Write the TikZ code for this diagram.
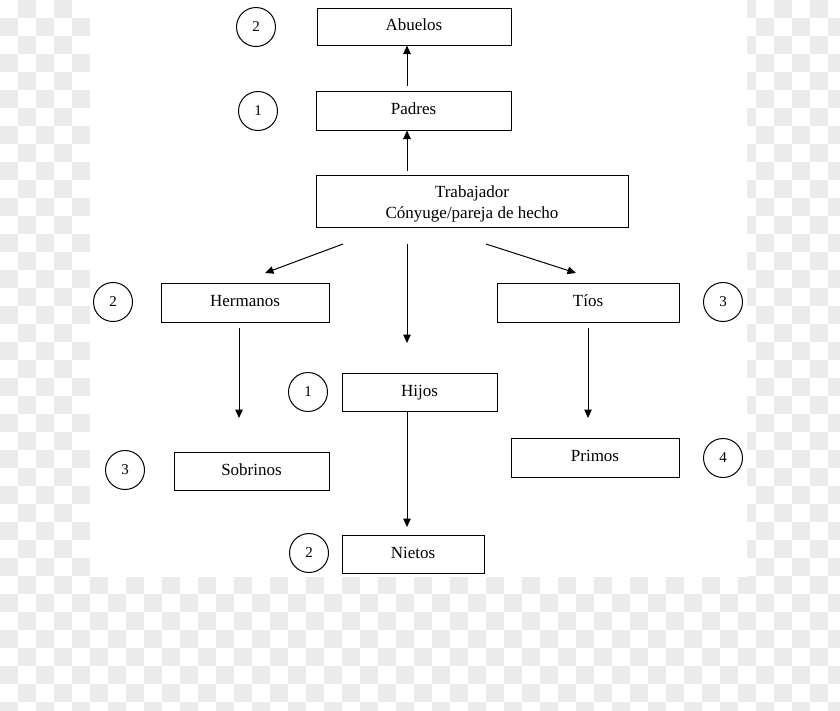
\documentclass[tikz,border=0pt]{standalone}
\usepackage{fontspec}
\setmainfont{Liberation Serif}
\usetikzlibrary{arrows.meta}
\pgfdeclarelayer{bglayer}
\pgfdeclarelayer{edgelayer}
\pgfdeclarelayer{nodelayer}
\pgfsetlayers{bglayer,edgelayer,nodelayer,main}
\definecolor{checkgray}{HTML}{EBEBEB}
\tikzstyle{kinbox}=[rectangle, draw=black, fill=white, line width=1pt, inner sep=0pt, align=center, font=\fontsize{17}{21}\selectfont]
\tikzstyle{kinline}=[kinbox, text height=12pt, text depth=4pt]
\tikzstyle{degree}=[circle, draw=black, fill=white, line width=1pt, minimum size=39pt, inner sep=0pt, font=\fontsize{15}{18}\selectfont]
\tikzstyle{arrowedge}=[draw=black, line width=1pt, -{Triangle[length=8.5pt,width=7.5pt]}]

\begin{document}
\begin{tikzpicture}[x=1pt, y=-1pt]
	\useasboundingbox (0,0) rectangle (840,710);
	\begin{pgfonlayer}{bglayer}
		\foreach \i in {0,...,46}
			\foreach \j in {0,...,39}
				{\pgfmathparse{int(mod(\i+\j,2))}
				 \ifnum\pgfmathresult=1 \fill [checkgray] (18*\i,18*\j) rectangle ++(18,18); \fi}
		\fill [white] (90,0) rectangle (747,577);
	\end{pgfonlayer}
	\begin{pgfonlayer}{nodelayer}
		\node [style=kinline, minimum width=194pt, minimum height=37pt] (abuelos) at (414,26.5) {Abuelos};
		\node [style=kinline, minimum width=195pt, minimum height=39pt] (padres) at (413.5,110.5) {Padres};
		\node [style=kinbox, minimum width=312pt, minimum height=52pt] (trab) at (472,201) {\rule{0pt}{18pt}Trabajador\\C\'onyuge/pareja de hecho};
		\node [style=kinline, minimum width=168pt, minimum height=39pt] (hermanos) at (245,302.5) {Hermanos};
		\node [style=kinline, minimum width=182pt, minimum height=39pt] (tios) at (588,302.5) {T\'{\i}os};
		\node [style=kinline, minimum width=155pt, minimum height=38pt] (hijos) at (419.5,392) {Hijos};
		\node [style=kinline, minimum width=155pt, minimum height=38pt] (sobrinos) at (251.5,471) {Sobrinos};
		\node [style=kinline, minimum width=168pt, minimum height=39pt] (primos) at (595,457.5) {Primos};
		\node [style=kinline, minimum width=142pt, minimum height=38pt] (nietos) at (413,554) {Nietos};
		\node [style=degree] (d1) at (256,27) {2};
		\node [style=degree] (d2) at (258,111) {1};
		\node [style=degree] (d3) at (113,302) {2};
		\node [style=degree] (d4) at (723,302) {3};
		\node [style=degree] (d5) at (308,392) {1};
		\node [style=degree] (d6) at (125,470) {3};
		\node [style=degree] (d7) at (723,458) {4};
		\node [style=degree] (d8) at (309,553) {2};
	\end{pgfonlayer}
	\begin{pgfonlayer}{edgelayer}
		\coordinate (up1) at (407,171);
		\coordinate (up2) at (407,86);
		\coordinate (dl) at (343,244);
		\coordinate (dl2) at (265,273);
		\coordinate (dm) at (407,244);
		\coordinate (dm2) at (407,343);
		\coordinate (dr) at (486,244);
		\coordinate (dr2) at (576,273);
		\coordinate (sb) at (239,328);
		\coordinate (sb2) at (239,418);
		\coordinate (pr) at (588,328);
		\coordinate (pr2) at (588,418);
		\coordinate (ni) at (407,411);
		\coordinate (ni2) at (407,527);
		\draw [style=arrowedge] (up1) to (up1 |- padres.south);
		\draw [style=arrowedge] (up2) to (up2 |- abuelos.south);
		\draw [style=arrowedge] (dl) to (dl2);
		\draw [style=arrowedge] (dm) to (dm2);
		\draw [style=arrowedge] (dr) to (dr2);
		\draw [style=arrowedge] (sb) to (sb2);
		\draw [style=arrowedge] (pr) to (pr2);
		\draw [style=arrowedge] (ni) to (ni2);
	\end{pgfonlayer}
\end{tikzpicture}
\end{document}
